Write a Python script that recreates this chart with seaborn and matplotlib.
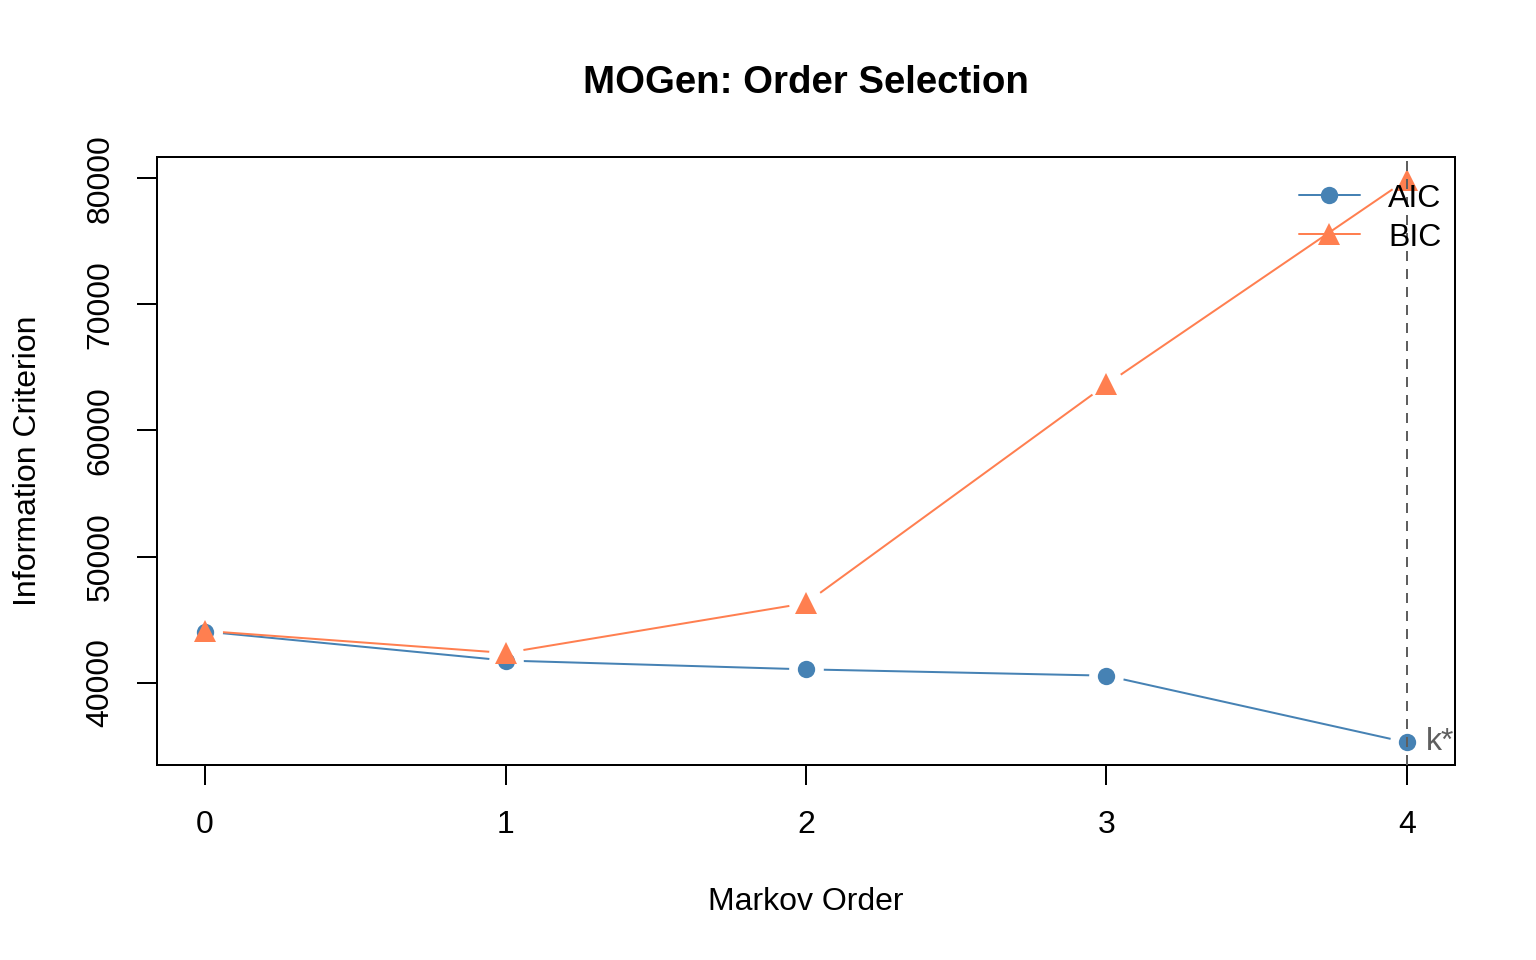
import numpy as np
import pandas as pd
import matplotlib
matplotlib.use('Agg')
import matplotlib.pyplot as plt
import seaborn as sns
from matplotlib.lines import Line2D

orders = [0, 1, 2, 3, 4]
aic = [44050, 41750, 41050, 40550, 35250]
bic = [44100, 42350, 46300, 63650, 79900]
best_k = 4

aic_col = '#4682B4'
bic_col = '#FF7F50'

sns.set_style('white')
plt.rcParams['font.family'] = ['Liberation Sans', 'DejaVu Sans']
plt.rcParams['font.size'] = 12
plt.rcParams['text.color'] = 'black'
plt.rcParams['axes.labelcolor'] = 'black'
plt.rcParams['xtick.color'] = 'black'
plt.rcParams['ytick.color'] = 'black'

df = pd.DataFrame({'order': orders * 2,
                   'value': aic + bic,
                   'crit': ['AIC'] * 5 + ['BIC'] * 5})

fig = plt.figure(figsize=(8, 5), dpi=192)
ax = fig.add_axes([157/1536, 1 - 765/960, (1455-157)/1536, (765-157)/960])

# lines first, then white halos to make the R type="b" gaps, then points
sns.lineplot(data=df, x='order', y='value', hue='crit',
             palette={'AIC': aic_col, 'BIC': bic_col},
             lw=0.75, legend=False, ax=ax, zorder=1)
ax.plot(orders, aic, 'o', color='white', markersize=13, mew=0, zorder=2)
ax.plot(orders, bic, 'o', color='white', markersize=13, mew=0, zorder=2)
ax.plot(orders, aic, 'o', color=aic_col, markersize=6.5, mew=0, zorder=3)
ax.plot(orders, bic, '^', color=bic_col, markersize=8, mew=0, zorder=4)

ax.axvline(best_k, color='#5f5f5f', lw=0.75, dashes=(5, 4), zorder=5)
ax.annotate('k*', (best_k, aic[best_k]), xytext=(7, 0), textcoords='offset points',
            color='#5f5f5f', fontsize=12, va='center', ha='left', zorder=6)

lo, hi = min(aic + bic), max(aic + bic)
pad = 0.04 * (hi - lo)
ax.set_ylim(lo - pad, hi + pad)
ax.set_xlim(-0.16, 4.16)
ax.set_xticks(orders)
ax.set_yticks([40000, 50000, 60000, 70000, 80000])
ax.set_yticklabels(['40000', '50000', '60000', '70000', '80000'], rotation=90, va='center')

for s in ax.spines.values():
    s.set_visible(True)
    s.set_color('black')
    s.set_linewidth(0.75)
ax.tick_params(axis='both', direction='out', length=7.5, width=0.75, color='black',
               labelsize=12, labelcolor='black', bottom=True, left=True)
ax.tick_params(axis='x', pad=9.5)
ax.tick_params(axis='y', pad=8)

ax.set_xlabel('Markov Order', fontsize=12, labelpad=17.5)
ax.set_ylabel('Information Criterion', fontsize=12, labelpad=16)
ax.set_title('MOGen: Order Selection', fontsize=14.4, fontweight='bold', pad=24)

handles = [Line2D([0], [0], color=aic_col, lw=0.75, marker='o', markersize=6.5, mew=0),
           Line2D([0], [0], color=bic_col, lw=0.75, marker='^', markersize=8, mew=0)]
ax.legend(handles, ['AIC', 'BIC'], loc='upper right', bbox_to_anchor=(1.007, 0.993),
          frameon=False, fontsize=12, handlelength=1.9, handletextpad=0.9,
          labelspacing=0.28, borderaxespad=0.3)

fig.savefig('out.png', dpi=192)
